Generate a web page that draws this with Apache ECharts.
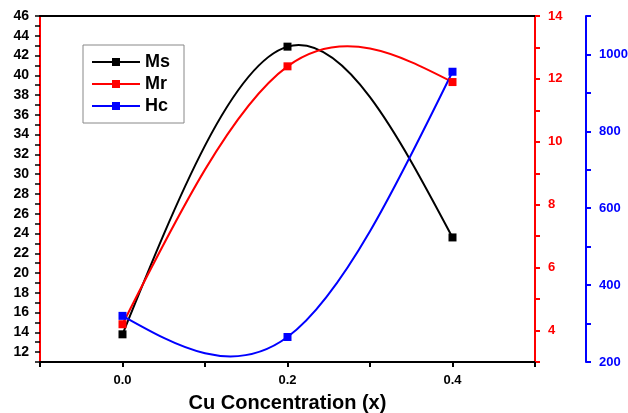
<!DOCTYPE html>
<html><head><meta charset="utf-8">
<script src="https://cdn.jsdelivr.net/npm/echarts@6/dist/echarts.min.js"></script>
<style>html,body{margin:0;padding:0;background:#fff}#c{width:628px;height:413px}</style>
</head><body><div id="c"></div>
<script>
const xVals = [0, 0.2, 0.4];
const msVals = [13.8, 42.9, 23.6];
const mrVals = [4.2, 12.4, 11.9];
const hcVals = [320, 265, 955];
const seriesNames = ['Ms', 'Mr', 'Hc'];
const colors = ['#000000', '#ff0000', '#0000ff'];

const F = 'Liberation Sans, Arial, sans-serif';
const pair = v => xVals.map((x, i) => [x, v[i]]);
const lbl = (color, size) => ({color: color, fontFamily: F, fontWeight: 'bold', fontSize: size});

// Natural cubic spline derivatives at the knots (rendering style of the connecting line, like Origin's "spline")
function splineSlopes(xs, ys) {
  const n = xs.length;
  const h = [], M = new Array(n).fill(0);
  for (let i = 0; i < n - 1; i++) h.push(xs[i + 1] - xs[i]);
  const a = [], b = [], c = [], d = [];
  for (let i = 1; i < n - 1; i++) {
    a.push(h[i - 1]); b.push(2 * (h[i - 1] + h[i])); c.push(h[i]);
    d.push(6 * ((ys[i + 1] - ys[i]) / h[i] - (ys[i] - ys[i - 1]) / h[i - 1]));
  }
  const m = b.length;
  for (let i = 1; i < m; i++) { const w = a[i] / b[i - 1]; b[i] -= w * c[i - 1]; d[i] -= w * d[i - 1]; }
  const sol = new Array(m).fill(0);
  for (let i = m - 1; i >= 0; i--) sol[i] = (d[i] - (i < m - 1 ? c[i] * sol[i + 1] : 0)) / b[i];
  for (let i = 0; i < m; i++) M[i + 1] = sol[i];
  const s = [];
  for (let i = 0; i < n; i++) {
    if (i < n - 1) s.push((ys[i + 1] - ys[i]) / h[i] - h[i] * (2 * M[i] + M[i + 1]) / 6);
    else s.push((ys[i] - ys[i - 1]) / h[i - 1] + h[i - 1] * (M[i - 1] + 2 * M[i]) / 6);
  }
  return s;
}

function splineRender(vals, color) {
  const slopes = splineSlopes(xVals, vals);
  return function (params, api) {
    if (params.dataIndex !== 0) return null;
    const children = [];
    for (let i = 0; i < xVals.length - 1; i++) {
      const h = xVals[i + 1] - xVals[i];
      const p0 = api.coord([xVals[i], vals[i]]);
      const p3 = api.coord([xVals[i + 1], vals[i + 1]]);
      const p1 = api.coord([xVals[i] + h / 3, vals[i] + slopes[i] * h / 3]);
      const p2 = api.coord([xVals[i + 1] - h / 3, vals[i + 1] - slopes[i + 1] * h / 3]);
      children.push({
        type: 'bezierCurve',
        shape: {x1: p0[0], y1: p0[1], cpx1: p1[0], cpy1: p1[1], cpx2: p2[0], cpy2: p2[1], x2: p3[0], y2: p3[1]},
        style: {stroke: color, lineWidth: 2, fill: null}
      });
    }
    return {type: 'group', children: children};
  };
}

const allVals = [msVals, mrVals, hcVals];
const series = [];
allVals.forEach((vals, i) => {
  series.push({
    type: 'custom', yAxisIndex: i, xAxisIndex: 0, silent: true,
    data: pair(vals), renderItem: splineRender(vals, colors[i]), clip: true, z: 2
  });
});
allVals.forEach((vals, i) => {
  series.push({
    name: seriesNames[i], type: 'line', yAxisIndex: i, xAxisIndex: 0,
    data: pair(vals), symbol: 'rect', symbolSize: 8,
    lineStyle: {color: colors[i], width: 0, opacity: 0},
    itemStyle: {color: colors[i]}, z: 3
  });
});

const chart = echarts.init(document.getElementById('c'));
chart.setOption({
  animation: false,
  backgroundColor: '#fff',
  grid: {left: 40, right: 93, top: 16, bottom: 51, containLabel: false, outerBoundsMode: 'none'},
  legend: {
    orient: 'vertical', left: 83, top: 45,
    itemWidth: 48, itemHeight: 10, itemGap: 4,
    padding: [8, 14, 8, 8],
    borderColor: '#888', borderWidth: 1,
    textStyle: lbl('#000', 18),
    lineStyle: {width: 2, opacity: 1},
    data: seriesNames.map((n, i) => ({name: n, lineStyle: {color: colors[i], width: 2, opacity: 1}}))
  },
  xAxis: [{
    type: 'value', min: -0.1, max: 0.5, interval: 0.1,
    name: 'Cu Concentration (x)', nameLocation: 'middle', nameGap: 31,
    nameTextStyle: lbl('#000', 20),
    axisLine: {show: true, onZero: false, lineStyle: {color: '#000', width: 2}},
    axisTick: {show: true, inside: false, length: 5, lineStyle: {color: '#000', width: 2}},
    axisLabel: Object.assign(lbl('#000', 13), {margin: 12, formatter: v => {
      const r = Math.round(v * 10);
      return (r >= 0 && r % 2 === 0 && r <= 4) ? (r / 10).toFixed(1) : '';
    }}),
    splitLine: {show: false}
  }, {
    type: 'value', min: -0.1, max: 0.5, position: 'top',
    axisLine: {show: true, onZero: false, lineStyle: {color: '#000', width: 2}},
    axisTick: {show: false}, axisLabel: {show: false}, splitLine: {show: false}
  }],
  yAxis: [{
    type: 'value', min: 11, max: 46, interval: 1, position: 'left',
    axisLine: {show: true, onZero: false, lineStyle: {color: '#ff0000', width: 2}},
    axisTick: {show: true, length: 5, lineStyle: {color: '#000000', width: 1.5}},
    axisLabel: Object.assign(lbl('#000', 14), {margin: 11, formatter: v => (Math.round(v) % 2 === 0 ? String(Math.round(v)) : '')}),
    splitLine: {show: false}
  }, {
    type: 'value', min: 3, max: 14, interval: 1, position: 'right',
    axisLine: {show: true, onZero: false, lineStyle: {color: '#ff0000', width: 2}},
    axisTick: {show: true, length: 5, lineStyle: {color: '#ff0000', width: 2}},
    axisLabel: Object.assign(lbl('#ff0000', 13), {margin: 13, formatter: v => (Math.round(v) % 2 === 0 ? String(Math.round(v)) : '')}),
    splitLine: {show: false}
  }, {
    type: 'value', min: 200, max: 1100, interval: 100, position: 'right', offset: 51,
    axisLine: {show: true, onZero: false, lineStyle: {color: '#0000ff', width: 2}},
    axisTick: {show: true, length: 5, lineStyle: {color: '#0000ff', width: 2}},
    axisLabel: Object.assign(lbl('#0000ff', 13), {margin: 13, formatter: v => (Math.round(v) % 200 === 0 && v < 1100 ? String(Math.round(v)) : '')}),
    splitLine: {show: false}
  }],
  series: series
});
</script></body></html>
